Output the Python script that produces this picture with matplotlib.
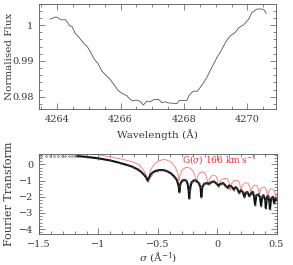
import matplotlib
matplotlib.use("Agg")
import matplotlib.pyplot as plt
from matplotlib.ticker import MultipleLocator, FuncFormatter

plt.rcParams['font.family'] = ['DejaVu Serif']
plt.rcParams['mathtext.fontset'] = 'dejavuserif'

# ---- top panel: spectrum ----
wave = [4263.78, 4263.97, 4264.13, 4264.27, 4264.40, 4264.48, 4264.57, 4264.69,
        4264.83, 4264.96, 4265.06, 4265.17, 4265.29, 4265.41, 4265.54, 4265.67,
        4265.80, 4265.93, 4266.06, 4266.20, 4266.30, 4266.38, 4266.51, 4266.62,
        4266.72, 4266.83, 4266.93, 4267.07, 4267.20, 4267.30, 4267.41, 4267.51,
        4267.78, 4267.85, 4268.09, 4268.16, 4268.27, 4268.35, 4268.41, 4268.51,
        4268.62, 4268.72, 4268.83, 4268.93, 4269.04, 4269.14, 4269.25, 4269.35,
        4269.46, 4269.62, 4269.72, 4269.88, 4270.04, 4270.14, 4270.30, 4270.46,
        4270.53, 4270.59]
flux = [1.0017, 1.0023, 1.0015, 1.0015, 0.9998, 0.9995, 0.9977, 0.9966,
        0.9950, 0.9939, 0.9924, 0.9905, 0.9893, 0.9872, 0.9860, 0.9849,
        0.9833, 0.9817, 0.9809, 0.9803, 0.9793, 0.9789, 0.9791, 0.9787,
        0.9777, 0.9788, 0.9786, 0.9793, 0.9793, 0.9784, 0.9786, 0.9783,
        0.9781, 0.9790, 0.9790, 0.9804, 0.9814, 0.9816, 0.9815, 0.9826,
        0.9840, 0.9854, 0.9874, 0.9891, 0.9910, 0.9924, 0.9942, 0.9958,
        0.9970, 0.9980, 0.9992, 1.0001, 1.0017, 1.0035, 1.0045, 1.0045,
        1.0042, 1.0033]

# ---- bottom panel: Fourier transform ----
ft_dot_sigma = [-1.48, -1.445, -1.41, -1.375, -1.34, -1.31, -1.28, -1.25, -1.225, -1.20, -1.175]
ft_dot_val = [0.54, 0.54, 0.54, 0.54, 0.53, 0.53, 0.53, 0.53, 0.53, 0.52, 0.52]

ft_sigma = [-1.175, -1.1, -1.0, -0.9, -0.82, -0.75, -0.71, -0.67, -0.64, -0.62, -0.60, -0.585,
            -0.575, -0.56, -0.54, -0.51, -0.48, -0.45, -0.42, -0.39, -0.36, -0.34, -0.325,
            -0.318, -0.31, -0.295, -0.275, -0.26, -0.248, -0.24, -0.235, -0.228, -0.215,
            -0.195, -0.175, -0.155, -0.14, -0.133, -0.125, -0.11, -0.09, -0.07, -0.05,
            -0.03, -0.01, 0.01, 0.03, 0.05, 0.07, 0.09, 0.10, 0.12, 0.14, 0.155, 0.17,
            0.185, 0.20, 0.215, 0.23, 0.24, 0.255, 0.27, 0.285, 0.30, 0.31, 0.32, 0.33,
            0.345, 0.36, 0.37, 0.38, 0.39, 0.405, 0.41, 0.42, 0.43, 0.44, 0.445, 0.455,
            0.47, 0.48, 0.49, 0.50]
ft_val = [0.52, 0.47, 0.38, 0.25, 0.10, -0.05, -0.15, -0.30, -0.45, -0.60, -0.78, -1.00,
          -0.85, -0.62, -0.48, -0.38, -0.34, -0.35, -0.42, -0.55, -0.75, -0.95, -1.30,
          -1.70, -1.20, -1.00, -0.95, -1.00, -1.20, -1.60, -2.10, -1.50, -1.10,
          -0.98, -1.00, -1.15, -1.40, -2.00, -1.40, -1.20, -1.15, -1.20, -1.10,
          -1.05, -1.15, -1.30, -1.20, -1.15, -1.30, -1.45, -1.30, -1.35, -1.55, -1.40, -1.50,
          -1.75, -1.60, -1.70, -2.00, -1.75, -1.70, -1.95, -1.80, -1.70, -1.95, -2.50, -1.90,
          -1.85, -2.00, -2.55, -2.00, -1.90, -2.20, -2.70, -2.00, -1.95, -2.30, -2.75, -2.10,
          -2.00, -2.40, -2.10, -2.20]

g_sigma = [-1.2, -1.085, -1.0, -0.9, -0.8, -0.71, -0.66, -0.62, -0.60, -0.58,
           -0.565, -0.545, -0.52, -0.49, -0.46, -0.43, -0.40, -0.37, -0.35, -0.335, -0.32,
           -0.31, -0.295, -0.275, -0.25, -0.23, -0.21, -0.19, -0.175,
           -0.165, -0.15, -0.125, -0.105, -0.09, -0.075,
           -0.065, -0.05, -0.03, -0.01, 0.003, 0.015,
           0.025, 0.045, 0.065, 0.085, 0.10, 0.11,
           0.12, 0.14, 0.16, 0.18, 0.192, 0.20,
           0.21, 0.228, 0.245, 0.262, 0.276, 0.285,
           0.293, 0.307, 0.32, 0.335, 0.347, 0.355,
           0.363, 0.377, 0.39, 0.405, 0.417, 0.425,
           0.433, 0.447, 0.46, 0.475, 0.487, 0.495, 0.50]
g_val = [0.85, 0.70, 0.60, 0.47, 0.33, 0.16, 0.00, -0.35, -0.60, -1.00,
         -0.45, -0.12, 0.08, 0.22, 0.30, 0.29, 0.20, 0.02, -0.20, -0.45, -1.00,
         -0.60, -0.35, -0.22, -0.18, -0.22, -0.35, -0.60, -1.15,
         -0.75, -0.52, -0.45, -0.52, -0.75, -1.30,
         -0.90, -0.72, -0.66, -0.72, -0.95, -1.45,
         -1.05, -0.90, -0.86, -0.90, -1.10, -1.60,
         -1.20, -1.01, -0.97, -1.02, -1.25, -1.70,
         -1.35, -1.16, -1.13, -1.17, -1.40, -1.80,
         -1.50, -1.30, -1.27, -1.30, -1.50, -1.90,
         -1.60, -1.43, -1.40, -1.43, -1.65, -2.00,
         -1.70, -1.53, -1.50, -1.55, -1.75, -2.05, -1.85]

fmt = FuncFormatter(lambda v, p: ('%g' % round(v, 6)).replace('-', '\u2212'))

fig = plt.figure(figsize=(2.93, 2.65), dpi=100)
ax1 = fig.add_axes([39/293, 1-109/265, (276-39)/293, 105/265])
ax2 = fig.add_axes([39/293, 1-234/265, (276.5-39)/293, 80.5/265])

axcol = '#555555'
txtcol = '#3a3a3a'
for ax in (ax1, ax2):
    for s in ax.spines.values():
        s.set_color(axcol)
        s.set_linewidth(0.6)
    ax.tick_params(which='both', direction='in', top=True, right=True,
                   color=axcol, width=0.5, labelsize=7, labelcolor=txtcol, pad=4)
    ax.tick_params(which='major', length=4)
    ax.tick_params(which='minor', length=2)

ax1.plot(wave, flux, color='#555555', lw=0.6)
ax1.set_xlim(4263.43, 4270.9)
ax1.set_ylim(0.9766, 1.0059)
ax1.xaxis.set_major_locator(MultipleLocator(2))
ax1.xaxis.set_minor_locator(MultipleLocator(0.5))
ax1.yaxis.set_major_locator(MultipleLocator(0.01))
ax1.yaxis.set_minor_locator(MultipleLocator(0.002))
ax1.xaxis.set_major_formatter(fmt)
ax1.yaxis.set_major_formatter(fmt)
ax1.set_xlabel('Wavelength (Å)', fontsize=7.5, color=txtcol, labelpad=4)
ax1.set_ylabel('Normalised Flux', fontsize=7.5, color=txtcol)
ax1.yaxis.set_label_coords(-0.106, 0.5)

ax2.plot(g_sigma, g_val, color='#ff7070', lw=0.6, zorder=2)
ax2.plot(ft_dot_sigma, ft_dot_val, ls='none', marker='o', ms=1.2, mfc='none',
         mec='#666666', mew=0.5, zorder=3)
ax2.plot(ft_sigma, ft_val, color='#111111', lw=1.5, marker='o', ms=1.0,
         mfc='none', mec='#555555', mew=0.4, zorder=3)
ax2.text(-0.3, 0.08, r'G($\sigma$) 166 km s$^{-1}$', color='#ee3030', fontsize=6.5)
ax2.set_xlim(-1.5, 0.5)
ax2.set_ylim(-4.3, 0.68)
ax2.xaxis.set_major_locator(MultipleLocator(0.5))
ax2.xaxis.set_minor_locator(MultipleLocator(0.1))
ax2.yaxis.set_major_locator(MultipleLocator(1))
ax2.yaxis.set_minor_locator(MultipleLocator(0.2))
ax2.xaxis.set_major_formatter(fmt)
ax2.yaxis.set_major_formatter(fmt)
ax2.set_xlabel(r'$\sigma$ (Å$^{-1}$)', fontsize=7.5, color=txtcol, labelpad=1)
ax2.set_ylabel('Fourier Transform', fontsize=8, color=txtcol)
ax2.yaxis.set_label_coords(-0.106, 0.5)

fig.savefig('out.png', dpi=100)
